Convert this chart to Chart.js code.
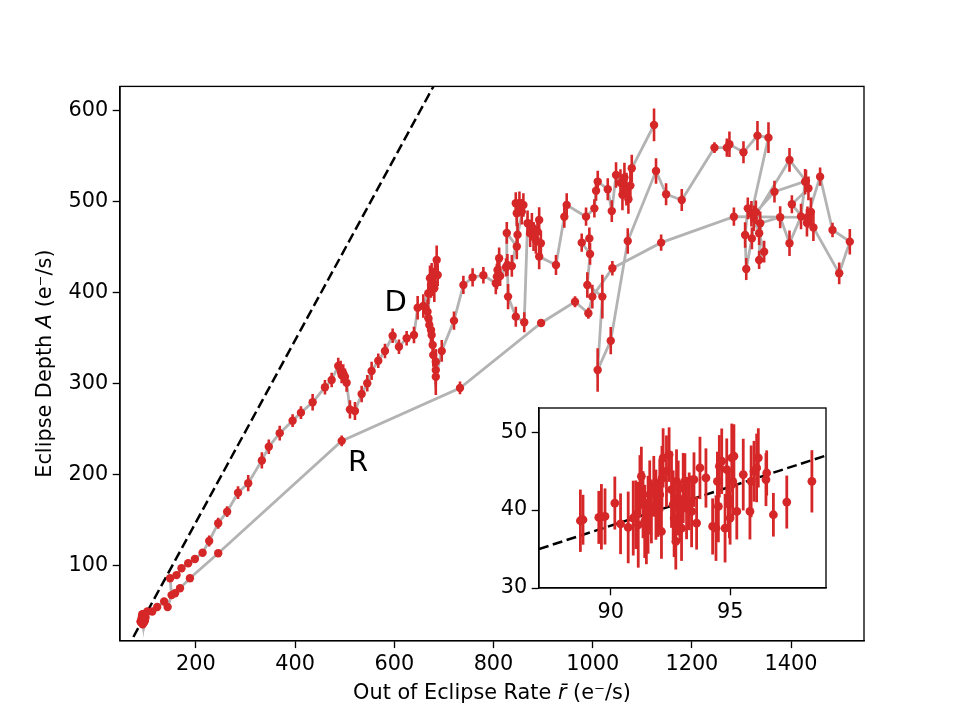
<!DOCTYPE html>
<html>
<head>
<meta charset="utf-8">
<script src="https://cdn.jsdelivr.net/npm/chart.js@4.4.0/dist/chart.umd.min.js"></script>
<style>
  html, body { margin: 0; padding: 0; background: #fff; }
  #wrap { position: relative; width: 961px; height: 719px; }
  #mainChart { position: absolute; left: 0; top: 0; }
  #insetChart { position: absolute; left: 470px; top: 398px; }
</style>
</head>
<body>
<div id="wrap">
  <canvas id="mainChart" width="961" height="719"></canvas>
  <canvas id="insetChart" width="370" height="230"></canvas>
</div>
<script>
// --- data: [rate r, depth A, error on A] in time order ---
const quiescent = [
  [88.73, 38.63, 4.0], [88.84, 38.76, 3.2], [89.50, 39.06, 3.4], [89.61, 39.14, 4.2], [89.76, 39.18, 3.6],
  [90.17, 40.90, 3.4], [90.41, 38.24, 3.9], [90.73, 37.77, 4.6], [90.94, 38.97, 4.8], [91.05, 39.40, 4.4],
  [91.15, 38.11, 5.5], [91.22, 43.05, 4.0], [91.28, 44.33, 3.8], [91.35, 40.69, 4.3], [91.42, 38.54, 4.7],
  [91.49, 37.25, 4.2], [91.56, 39.40, 5.0], [91.63, 41.97, 4.4], [91.70, 39.83, 4.1], [91.80, 43.05, 3.9],
  [91.89, 40.69, 4.5], [91.98, 40.26, 3.7], [92.05, 41.97, 4.6], [92.12, 37.25, 3.5], [92.14, 44.03, 4.2],
  [92.19, 46.70, 3.8], [92.33, 44.98, 4.6], [92.44, 47.12, 3.5], [92.54, 42.62, 4.9], [92.61, 40.69, 4.4],
  [92.65, 38.97, 5.0], [92.72, 35.97, 3.6], [92.75, 43.69, 4.1], [92.82, 41.55, 4.8], [92.89, 39.83, 3.9],
  [92.96, 37.68, 4.2], [93.03, 42.83, 4.5], [93.10, 43.69, 3.6], [93.17, 40.26, 4.0], [93.28, 41.12, 3.7],
  [93.38, 39.83, 4.6], [93.48, 43.91, 3.5], [93.59, 38.33, 3.4], [93.73, 45.41, 4.0], [93.98, 44.12, 3.8],
  [94.26, 37.90, 3.6], [94.40, 37.68, 4.2], [94.46, 43.69, 3.8], [94.50, 40.47, 4.6], [94.54, 45.62, 4.0],
  [94.64, 46.27, 4.2], [94.78, 37.68, 4.4], [94.85, 45.19, 4.0], [94.92, 41.55, 3.9], [94.96, 40.69, 4.3],
  [94.99, 38.97, 3.4], [95.06, 46.70, 4.4], [95.10, 43.69, 4.6], [95.15, 46.91, 4.1], [95.27, 39.83, 3.6],
  [95.54, 44.55, 4.6], [95.82, 39.83, 3.6], [95.87, 43.69, 4.6], [95.99, 44.98, 3.9], [96.10, 45.41, 4.4],
  [96.17, 46.70, 3.8], [96.49, 43.91, 3.4], [96.52, 44.76, 2.9], [96.80, 39.40, 2.8], [97.36, 41.03, 3.4],
  [98.41, 43.69, 4.0]
];

// upper branch (D)
const decayBranch = [
  [102, 50, 2], [112, 50, 2], [122, 55, 2.5], [136, 61, 2.5], [143, 55, 2.5], [151, 68, 3],
  [148, 86.5, 3], [161, 90, 3], [171, 97.5, 3], [184.5, 103, 3.5], [198, 107.7, 4], [213.5, 114.6, 4],
  [226.8, 127.5, 6], [245, 147, 6], [263, 159.7, 6], [285, 180.5, 7], [305.5, 191, 9], [333, 216, 9],
  [347, 231, 8], [369, 246, 8], [395, 259.7, 7], [411.8, 268.5, 7], [435.4, 279.9, 9], [460.2, 296.4, 8],
  [473.7, 304.4, 8], [487, 319.8, 9], [491.8, 315.4, 10], [493.8, 309.9, 9], [497.1, 311.7, 10],
  [500.5, 308, 9], [503.9, 301.4, 10], [510.6, 272, 10], [520.7, 270.3, 10], [534.2, 289, 9],
  [545.5, 300.8, 9], [554.3, 314.3, 10], [567.7, 325.6, 8], [581.2, 336.3, 8], [596.7, 353, 8],
  [609.4, 341, 8], [624.9, 350.2, 8], [639.7, 353.8, 9], [647.1, 383.8, 13], [658.5, 385.7, 13],
  [668.6, 399.7, 12], [672, 416.2, 14], [675.3, 417.9, 15], [682, 423.4, 14], [685.5, 436.3, 16],
  [687.5, 419.8, 12], [678.6, 410.6, 14], [680.7, 405.1, 15], [674, 408.8, 14], [667, 379.5, 13],
  [668.6, 372.2, 14], [670.6, 364.8, 13], [674, 359.3, 14], [675.3, 353.8, 12], [677.4, 342.9, 12],
  [678.6, 331.9, 13], [683.7, 324.5, 14], [683.7, 315.4, 16], [683.7, 308, 20], [695.7, 336.3, 12],
  [720.4, 369.6, 10], [739.3, 408.8, 10], [757.9, 417.2, 10], [779.6, 419.5, 9], [804.7, 410.7, 12],
  [806.8, 418, 14], [808.1, 425.3, 12], [811.4, 438.1, 12], [813.4, 418.7, 11], [825.3, 428.2, 10],
  [826.8, 466, 12], [847, 451, 14], [848.5, 464, 13], [844.9, 498.6, 12], [847, 487.6, 14],
  [852.3, 498.6, 13], [857, 489.3, 14], [860.3, 496.7, 13], [837, 429.7, 12], [828, 430.8, 12],
  [829.4, 396, 14], [845, 374, 11], [862, 367.8, 11], [868.7, 476.6, 14], [874, 465.6, 15],
  [877.4, 472.9, 15], [880.8, 462, 16], [892.1, 480.2, 14], [888.8, 467.4, 14], [885.4, 458.2, 15],
  [895.5, 454.6, 14], [892.1, 440, 14], [926, 430.8, 11], [942.8, 483.8, 12], [947.6, 496.7, 13],
  [986.6, 483.9, 10], [1003.4, 493, 10], [1006.8, 512.4, 11], [1010.2, 522.4, 12], [1030.4, 514, 12],
  [1038.5, 490, 12], [1047.1, 529.7, 14], [1056, 521, 15], [1060, 508, 17], [1064, 527, 16],
  [1068, 514, 18], [1072, 503, 16], [1076, 518, 17], [1078.8, 537, 15], [1123.7, 584.6, 18]
];

const dips = [
  [993.3, 460, 12], [977.9, 455.3, 10], [994.7, 442.9, 12], [989.2, 408.8, 14], [1019.5, 396, 24],
  [1010, 315.4, 24], [1036.4, 347.6, 15], [1070.7, 457.1, 14], [1127.7, 534, 14]
];

const peak = [
  [1148, 508.5, 12], [1179.6, 502.2, 12], [1245.5, 559.7, 6], [1270.5, 559.7, 10], [1275.7, 563.4, 14],
  [1304, 554.6, 12], [1332.2, 572.9, 16], [1354.4, 570.7, 17], [1320, 487, 14], [1312.7, 493, 12],
  [1307.3, 463.7, 14], [1309.6, 426.4, 12], [1321, 460, 12], [1329, 488.7, 13], [1366.5, 511.3, 12],
  [1430, 523, 12], [1396.8, 546.2, 13], [1325, 482, 14], [1335.6, 465.6, 13], [1345.7, 445.4, 12],
  [1335.6, 436.3, 10], [1337.7, 476.6, 13], [1378, 483.2, 12], [1396.8, 454.6, 14], [1420, 484, 14],
  [1428.3, 522.3, 14], [1435, 515, 13], [1401.6, 497.5, 10], [1432, 477, 15], [1440, 489, 16],
  [1445, 472, 15], [1497, 421.6, 12], [1518.4, 456.4, 14], [1483.5, 469.2, 8], [1458.5, 527.8, 10],
  [1433, 483, 12]
];

// lower branch (R)
const riseBranch = [
  [1284.7, 483.8, 10], [1138, 455.3, 9], [1039.7, 427.1, 8], [999.3, 396, 13], [991.3, 377.7, 6],
  [964.4, 390.4, 6], [896, 367, 4], [732.5, 295.6, 7], [494, 237.5, 6], [245, 114, 3],
  [188, 86.5, 3], [168, 75.5, 3], [158, 70, 3]
];

// dashed reference line A = r - 52
const refLineR = [60, 700];
const refLineA = [8, 648];
const insetRefR = [87, 99];
const insetRefA = [35, 47];

const xTicks = [200, 400, 600, 800, 1000, 1200, 1400];
const yTicks = [100, 200, 300, 400, 500, 600];
const insetXTicks = [90, 95];
const insetYTicks = [30, 40, 50];

const branchNames = ['D', 'R'];
const branchNameR = [603, 527];
const branchNameA = [388, 213];

const xTitleParts = [['Out of Eclipse Rate ', false], ['r\u0304', true], [' (e\u207B/s)', false]];
const yTitleParts = [['Eclipse Depth ', false], ['A', true], [' (e\u207B/s)', false]];

// --- style ---
const RED = '#d62728';
const GREY = '#b3b3b3';
const FONT = "'DejaVu Sans', sans-serif";
const FS = 20.8;

Chart.defaults.color = '#000';
Chart.defaults.font.family = FONT;
Chart.defaults.font.size = FS;

const toXY = arr => arr.map(p => ({ x: p[0], y: p[1] }));
const allPoints = quiescent.concat(decayBranch, dips, peak, riseBranch);

// error bars drawn under the markers
const errorBarPlugin = {
  id: 'errorBars',
  beforeDatasetDraw(chart, args) {
    const ds = chart.data.datasets[args.index];
    if (!ds.errors) return;
    const { ctx, chartArea, scales } = chart;
    ctx.save();
    ctx.beginPath();
    ctx.rect(chartArea.left, chartArea.top, chartArea.right - chartArea.left, chartArea.bottom - chartArea.top);
    ctx.clip();
    ctx.strokeStyle = RED;
    ctx.lineWidth = ds.errorWidth;
    ds.data.forEach((p, i) => {
      const px = scales.x.getPixelForValue(p.x);
      ctx.beginPath();
      ctx.moveTo(px, scales.y.getPixelForValue(p.y - ds.errors[i]));
      ctx.lineTo(px, scales.y.getPixelForValue(p.y + ds.errors[i]));
      ctx.stroke();
    });
    ctx.restore();
  }
};

// white background + box around the axes
const framePlugin = {
  id: 'frame',
  beforeDraw(chart, args, opts) {
    const { ctx, chartArea: a } = chart;
    ctx.save();
    ctx.fillStyle = '#fff';
    if (opts.full) ctx.fillRect(0, 0, chart.width, chart.height);
    else ctx.fillRect(a.left, a.top, a.right - a.left, a.bottom - a.top);
    ctx.restore();
  },
  afterDraw(chart) {
    const { ctx, chartArea: a } = chart;
    ctx.save();
    ctx.strokeStyle = '#000';
    ctx.lineWidth = 1.33;
    ctx.strokeRect(a.left, a.top, a.right - a.left, a.bottom - a.top);
    ctx.restore();
  }
};

function drawRich(ctx, parts, cx, cy, rotate) {
  ctx.save();
  ctx.translate(cx, cy);
  if (rotate) ctx.rotate(-Math.PI / 2);
  ctx.textBaseline = 'middle';
  ctx.textAlign = 'left';
  ctx.fillStyle = '#000';
  const fonts = parts.map(p => (p[1] ? 'italic ' : '') + FS + 'px ' + FONT);
  const widths = parts.map((p, i) => { ctx.font = fonts[i]; return ctx.measureText(p[0]).width; });
  let x = -widths.reduce((s, w) => s + w, 0) / 2;
  parts.forEach((p, i) => { ctx.font = fonts[i]; ctx.fillText(p[0], x, 0); x += widths[i]; });
  ctx.restore();
}

// axis titles and the D / R branch labels
const textPlugin = {
  id: 'texts',
  afterDraw(chart) {
    const { ctx, chartArea: a, scales } = chart;
    drawRich(ctx, xTitleParts, (a.left + a.right) / 2, 694, false);
    drawRich(ctx, yTitleParts, 46, (a.top + a.bottom) / 2, true);
    ctx.save();
    ctx.font = '29px ' + FONT;
    ctx.fillStyle = '#000';
    ctx.textAlign = 'center';
    ctx.textBaseline = 'middle';
    branchNames.forEach((t, i) => {
      ctx.fillText(t, scales.x.getPixelForValue(branchNameR[i]), scales.y.getPixelForValue(branchNameA[i]));
    });
    ctx.restore();
  }
};

function axisStyle(ticks, min, max, fitSize, horizontal) {
  return {
    type: 'linear',
    min: min,
    max: max,
    afterBuildTicks: axis => { axis.ticks = ticks.map(v => ({ value: v })); },
    afterFit: axis => {
      if (horizontal) axis.height = fitSize; else axis.width = fitSize;
      axis.paddingLeft = axis.paddingRight = axis.paddingTop = axis.paddingBottom = 0;
    },
    grid: { drawOnChartArea: false, drawTicks: true, tickLength: 7.3, tickColor: '#000', tickWidth: 1.33 },
    border: { display: true, color: '#000', width: 1.33 },
    ticks: {
      color: '#000', padding: 4.5, maxRotation: 0, font: { family: FONT, size: FS },
      callback: v => String(v)
    }
  };
}

// =========================================
// main chart
// =========================================
new Chart(document.getElementById('mainChart'), {
  type: 'scatter',
  data: {
    datasets: [
      {
        data: toXY(allPoints),
        errors: allPoints.map(p => p[2]),
        errorWidth: 2.6,
        backgroundColor: RED,
        borderWidth: 0,
        pointRadius: 4.2,
        order: 0
      },
      {
        data: toXY(quiescent.concat(decayBranch)),
        showLine: true,
        borderColor: GREY,
        borderWidth: 2.8,
        pointRadius: 0,
        order: 2
      },
      {
        data: toXY(dips.concat(peak, riseBranch)),
        showLine: true,
        borderColor: GREY,
        borderWidth: 2.8,
        pointRadius: 0,
        order: 2
      },
      {
        data: refLineR.map((r, i) => ({ x: r, y: refLineA[i] })),
        showLine: true,
        borderColor: '#000',
        borderWidth: 2.5,
        borderDash: [10, 4.5],
        pointRadius: 0,
        order: 1
      }
    ]
  },
  options: {
    responsive: false,
    animation: false,
    events: [],
    layout: { padding: { left: 0, top: 86.4, right: 97, bottom: 0 } },
    plugins: { legend: { display: false }, tooltip: { enabled: false }, frame: { full: true } },
    scales: {
      x: axisStyle(xTicks, 47, 1547, 78.2, true),
      y: axisStyle(yTicks, 17.8, 627, 120, false)
    }
  },
  plugins: [framePlugin, errorBarPlugin, textPlugin]
});

// =========================================
// inset: quiescent points
// =========================================
new Chart(document.getElementById('insetChart'), {
  type: 'scatter',
  data: {
    datasets: [
      {
        data: toXY(quiescent),
        errors: quiescent.map(p => p[2]),
        errorWidth: 2.8,
        backgroundColor: RED,
        borderWidth: 0,
        pointRadius: 4.4,
        order: 0
      },
      {
        data: insetRefR.map((r, i) => ({ x: r, y: insetRefA[i] })),
        showLine: true,
        borderColor: '#000',
        borderWidth: 2.5,
        borderDash: [10, 4.5],
        pointRadius: 0,
        order: 1
      }
    ]
  },
  options: {
    responsive: false,
    animation: false,
    events: [],
    layout: { padding: { left: 0, top: 10, right: 14, bottom: 0 } },
    plugins: { legend: { display: false }, tooltip: { enabled: false }, frame: { full: false } },
    scales: {
      x: axisStyle(insetXTicks, 87, 99, 40, true),
      y: axisStyle(insetYTicks, 30, 53.1, 69, false)
    }
  },
  plugins: [framePlugin, errorBarPlugin]
});
</script>
</body>
</html>
